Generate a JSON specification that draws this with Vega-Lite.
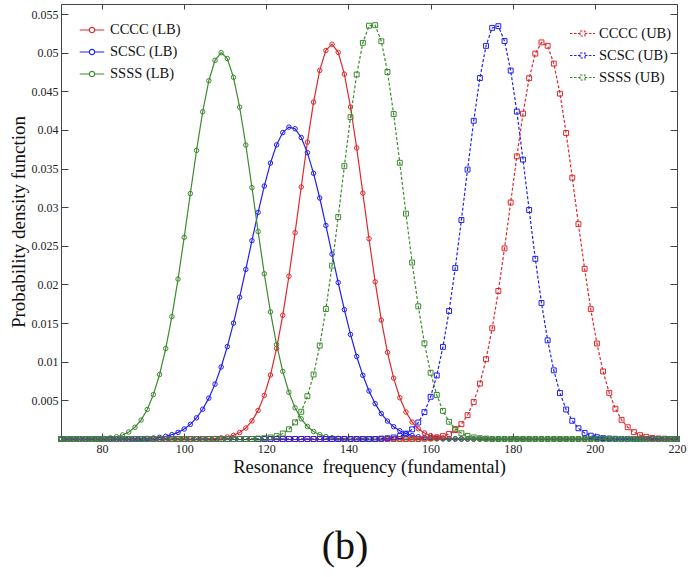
{
  "$schema": "https://vega.github.io/schema/vega-lite/v6.json",
  "width": 616,
  "height": 435,
  "autosize": "none",
  "padding": {"left": 61, "top": 4, "right": 19, "bottom": 138},
  "background": "white",
  "config": {
    "font": "Liberation Serif",
    "view": {"stroke": "#444", "strokeWidth": 1},
    "axis": {"domainColor": "#444", "tickColor": "#444", "labelColor": "#222", "titleColor": "#111", "labelFont": "Liberation Serif", "titleFont": "Liberation Serif", "grid": false, "labelFontSize": 12, "titleFontWeight": "normal", "labelFlush": false}
  },
  "title": {"text": "(b)", "orient": "bottom", "fontSize": 40, "fontWeight": "normal", "font": "Liberation Serif", "color": "#111", "offset": 51, "dx": -24},
  "data": {"values": [
    {"x":70,"CCCC (LB)":0,"SCSC (LB)":0,"SSSS (LB)":0,"CCCC (UB)":0,"SCSC (UB)":0,"SSSS (UB)":0},
    {"x":71.5,"CCCC (LB)":0,"SCSC (LB)":0,"SSSS (LB)":0,"CCCC (UB)":0,"SCSC (UB)":0,"SSSS (UB)":0},
    {"x":73,"CCCC (LB)":0,"SCSC (LB)":0,"SSSS (LB)":0,"CCCC (UB)":0,"SCSC (UB)":0,"SSSS (UB)":0},
    {"x":74.5,"CCCC (LB)":0,"SCSC (LB)":0,"SSSS (LB)":0,"CCCC (UB)":0,"SCSC (UB)":0,"SSSS (UB)":0},
    {"x":76,"CCCC (LB)":0,"SCSC (LB)":0,"SSSS (LB)":0,"CCCC (UB)":0,"SCSC (UB)":0,"SSSS (UB)":0},
    {"x":77.5,"CCCC (LB)":0,"SCSC (LB)":0,"SSSS (LB)":0,"CCCC (UB)":0,"SCSC (UB)":0,"SSSS (UB)":0},
    {"x":79,"CCCC (LB)":0,"SCSC (LB)":0,"SSSS (LB)":0.00004,"CCCC (UB)":0,"SCSC (UB)":0,"SSSS (UB)":0},
    {"x":80.5,"CCCC (LB)":0,"SCSC (LB)":0,"SSSS (LB)":0.00008,"CCCC (UB)":0,"SCSC (UB)":0,"SSSS (UB)":0},
    {"x":82,"CCCC (LB)":0,"SCSC (LB)":0,"SSSS (LB)":0.00016,"CCCC (UB)":0,"SCSC (UB)":0,"SSSS (UB)":0},
    {"x":83.5,"CCCC (LB)":0,"SCSC (LB)":0,"SSSS (LB)":0.00029,"CCCC (UB)":0,"SCSC (UB)":0,"SSSS (UB)":0},
    {"x":85,"CCCC (LB)":0,"SCSC (LB)":0,"SSSS (LB)":0.00052,"CCCC (UB)":0,"SCSC (UB)":0,"SSSS (UB)":0},
    {"x":86.5,"CCCC (LB)":0,"SCSC (LB)":0,"SSSS (LB)":0.00091,"CCCC (UB)":0,"SCSC (UB)":0,"SSSS (UB)":0},
    {"x":88,"CCCC (LB)":0,"SCSC (LB)":0.00003,"SSSS (LB)":0.00152,"CCCC (UB)":0,"SCSC (UB)":0,"SSSS (UB)":0},
    {"x":89.5,"CCCC (LB)":0,"SCSC (LB)":0.00004,"SSSS (LB)":0.00245,"CCCC (UB)":0,"SCSC (UB)":0,"SSSS (UB)":0},
    {"x":91,"CCCC (LB)":0,"SCSC (LB)":0.00008,"SSSS (LB)":0.00382,"CCCC (UB)":0,"SCSC (UB)":0,"SSSS (UB)":0},
    {"x":92.5,"CCCC (LB)":0,"SCSC (LB)":0.00013,"SSSS (LB)":0.00575,"CCCC (UB)":0,"SCSC (UB)":0,"SSSS (UB)":0},
    {"x":94,"CCCC (LB)":0,"SCSC (LB)":0.00022,"SSSS (LB)":0.00835,"CCCC (UB)":0,"SCSC (UB)":0,"SSSS (UB)":0},
    {"x":95.5,"CCCC (LB)":0,"SCSC (LB)":0.00035,"SSSS (LB)":0.01171,"CCCC (UB)":0,"SCSC (UB)":0,"SSSS (UB)":0},
    {"x":97,"CCCC (LB)":0,"SCSC (LB)":0.00056,"SSSS (LB)":0.01585,"CCCC (UB)":0,"SCSC (UB)":0,"SSSS (UB)":0},
    {"x":98.5,"CCCC (LB)":0,"SCSC (LB)":0.00086,"SSSS (LB)":0.0207,"CCCC (UB)":0,"SCSC (UB)":0,"SSSS (UB)":0},
    {"x":100,"CCCC (LB)":0,"SCSC (LB)":0.00129,"SSSS (LB)":0.0261,"CCCC (UB)":0,"SCSC (UB)":0,"SSSS (UB)":0},
    {"x":101.5,"CCCC (LB)":0,"SCSC (LB)":0.0019,"SSSS (LB)":0.03177,"CCCC (UB)":0,"SCSC (UB)":0,"SSSS (UB)":0},
    {"x":103,"CCCC (LB)":0,"SCSC (LB)":0.00274,"SSSS (LB)":0.03734,"CCCC (UB)":0,"SCSC (UB)":0,"SSSS (UB)":0},
    {"x":104.5,"CCCC (LB)":0,"SCSC (LB)":0.00385,"SSSS (LB)":0.04235,"CCCC (UB)":0,"SCSC (UB)":0,"SSSS (UB)":0},
    {"x":106,"CCCC (LB)":0.00003,"SCSC (LB)":0.00529,"SSSS (LB)":0.04637,"CCCC (UB)":0,"SCSC (UB)":0,"SSSS (UB)":0},
    {"x":107.5,"CCCC (LB)":0.00007,"SCSC (LB)":0.0071,"SSSS (LB)":0.04901,"CCCC (UB)":0,"SCSC (UB)":0,"SSSS (UB)":0},
    {"x":109,"CCCC (LB)":0.00014,"SCSC (LB)":0.00932,"SSSS (LB)":0.05,"CCCC (UB)":0,"SCSC (UB)":0,"SSSS (UB)":0},
    {"x":110.5,"CCCC (LB)":0.00026,"SCSC (LB)":0.01196,"SSSS (LB)":0.04924,"CCCC (UB)":0,"SCSC (UB)":0,"SSSS (UB)":0},
    {"x":112,"CCCC (LB)":0.00047,"SCSC (LB)":0.01499,"SSSS (LB)":0.04681,"CCCC (UB)":0,"SCSC (UB)":0,"SSSS (UB)":0},
    {"x":113.5,"CCCC (LB)":0.00084,"SCSC (LB)":0.01835,"SSSS (LB)":0.04295,"CCCC (UB)":0,"SCSC (UB)":0,"SSSS (UB)":0},
    {"x":115,"CCCC (LB)":0.00142,"SCSC (LB)":0.02195,"SSSS (LB)":0.03805,"CCCC (UB)":0,"SCSC (UB)":0,"SSSS (UB)":0},
    {"x":116.5,"CCCC (LB)":0.00234,"SCSC (LB)":0.02567,"SSSS (LB)":0.03254,"CCCC (UB)":0,"SCSC (UB)":0,"SSSS (UB)":0},
    {"x":118,"CCCC (LB)":0.0037,"SCSC (LB)":0.02933,"SSSS (LB)":0.02685,"CCCC (UB)":0,"SCSC (UB)":0,"SSSS (UB)":0.00005},
    {"x":119.5,"CCCC (LB)":0.00564,"SCSC (LB)":0.03274,"SSSS (LB)":0.02139,"CCCC (UB)":0,"SCSC (UB)":0,"SSSS (UB)":0.0001},
    {"x":121,"CCCC (LB)":0.00828,"SCSC (LB)":0.03571,"SSSS (LB)":0.01645,"CCCC (UB)":0,"SCSC (UB)":0,"SSSS (UB)":0.0002},
    {"x":122.5,"CCCC (LB)":0.01173,"SCSC (LB)":0.03807,"SSSS (LB)":0.01221,"CCCC (UB)":0,"SCSC (UB)":0,"SSSS (UB)":0.00038},
    {"x":124,"CCCC (LB)":0.01601,"SCSC (LB)":0.03966,"SSSS (LB)":0.00875,"CCCC (UB)":0,"SCSC (UB)":0,"SSSS (UB)":0.00071},
    {"x":125.5,"CCCC (LB)":0.02106,"SCSC (LB)":0.04037,"SSSS (LB)":0.00605,"CCCC (UB)":0,"SCSC (UB)":0,"SSSS (UB)":0.00126},
    {"x":127,"CCCC (LB)":0.0267,"SCSC (LB)":0.04015,"SSSS (LB)":0.00404,"CCCC (UB)":0,"SCSC (UB)":0,"SSSS (UB)":0.00215},
    {"x":128.5,"CCCC (LB)":0.03262,"SCSC (LB)":0.03902,"SSSS (LB)":0.00261,"CCCC (UB)":0,"SCSC (UB)":0,"SSSS (UB)":0.00352},
    {"x":130,"CCCC (LB)":0.03842,"SCSC (LB)":0.03706,"SSSS (LB)":0.00162,"CCCC (UB)":0,"SCSC (UB)":0,"SSSS (UB)":0.00554},
    {"x":131.5,"CCCC (LB)":0.0436,"SCSC (LB)":0.03439,"SSSS (LB)":0.00097,"CCCC (UB)":0,"SCSC (UB)":0,"SSSS (UB)":0.00835},
    {"x":133,"CCCC (LB)":0.0477,"SCSC (LB)":0.03119,"SSSS (LB)":0.00056,"CCCC (UB)":0,"SCSC (UB)":0,"SSSS (UB)":0.0121},
    {"x":134.5,"CCCC (LB)":0.05029,"SCSC (LB)":0.02764,"SSSS (LB)":0.00032,"CCCC (UB)":0,"SCSC (UB)":0,"SSSS (UB)":0.01682},
    {"x":136,"CCCC (LB)":0.0511,"SCSC (LB)":0.02393,"SSSS (LB)":0.00017,"CCCC (UB)":0,"SCSC (UB)":0,"SSSS (UB)":0.02244},
    {"x":137.5,"CCCC (LB)":0.05004,"SCSC (LB)":0.02025,"SSSS (LB)":0.00009,"CCCC (UB)":0,"SCSC (UB)":0,"SSSS (UB)":0.02873},
    {"x":139,"CCCC (LB)":0.04723,"SCSC (LB)":0.01674,"SSSS (LB)":0.00005,"CCCC (UB)":0,"SCSC (UB)":0,"SSSS (UB)":0.03531},
    {"x":140.5,"CCCC (LB)":0.04297,"SCSC (LB)":0.01353,"SSSS (LB)":0,"CCCC (UB)":0,"SCSC (UB)":0,"SSSS (UB)":0.04166},
    {"x":142,"CCCC (LB)":0.03767,"SCSC (LB)":0.01068,"SSSS (LB)":0,"CCCC (UB)":0,"SCSC (UB)":0,"SSSS (UB)":0.04717},
    {"x":143.5,"CCCC (LB)":0.03183,"SCSC (LB)":0.00824,"SSSS (LB)":0,"CCCC (UB)":0,"SCSC (UB)":0,"SSSS (UB)":0.05127},
    {"x":145,"CCCC (LB)":0.02592,"SCSC (LB)":0.00621,"SSSS (LB)":0,"CCCC (UB)":0,"SCSC (UB)":0,"SSSS (UB)":0.05349},
    {"x":146.5,"CCCC (LB)":0.02034,"SCSC (LB)":0.00457,"SSSS (LB)":0,"CCCC (UB)":0,"SCSC (UB)":0,"SSSS (UB)":0.05356},
    {"x":148,"CCCC (LB)":0.01539,"SCSC (LB)":0.00329,"SSSS (LB)":0,"CCCC (UB)":0,"SCSC (UB)":0.00005,"SSSS (UB)":0.05148},
    {"x":149.5,"CCCC (LB)":0.01122,"SCSC (LB)":0.00232,"SSSS (LB)":0,"CCCC (UB)":0,"SCSC (UB)":0.0001,"SSSS (UB)":0.0475},
    {"x":151,"CCCC (LB)":0.00788,"SCSC (LB)":0.00159,"SSSS (LB)":0,"CCCC (UB)":0,"SCSC (UB)":0.0002,"SSSS (UB)":0.04206},
    {"x":152.5,"CCCC (LB)":0.00534,"SCSC (LB)":0.00107,"SSSS (LB)":0,"CCCC (UB)":0,"SCSC (UB)":0.00038,"SSSS (UB)":0.03575},
    {"x":154,"CCCC (LB)":0.00349,"SCSC (LB)":0.0007,"SSSS (LB)":0,"CCCC (UB)":0,"SCSC (UB)":0.0007,"SSSS (UB)":0.02917},
    {"x":155.5,"CCCC (LB)":0.00219,"SCSC (LB)":0.00045,"SSSS (LB)":0,"CCCC (UB)":0,"SCSC (UB)":0.00125,"SSSS (UB)":0.02284},
    {"x":157,"CCCC (LB)":0.00133,"SCSC (LB)":0.00028,"SSSS (LB)":0,"CCCC (UB)":0,"SCSC (UB)":0.00213,"SSSS (UB)":0.01717},
    {"x":158.5,"CCCC (LB)":0.00078,"SCSC (LB)":0.00017,"SSSS (LB)":0,"CCCC (UB)":0.00005,"SCSC (UB)":0.00348,"SSSS (UB)":0.01238},
    {"x":160,"CCCC (LB)":0.00044,"SCSC (LB)":0.0001,"SSSS (LB)":0,"CCCC (UB)":0.0001,"SCSC (UB)":0.00546,"SSSS (UB)":0.00857},
    {"x":161.5,"CCCC (LB)":0.00024,"SCSC (LB)":0.00006,"SSSS (LB)":0,"CCCC (UB)":0.0002,"SCSC (UB)":0.00823,"SSSS (UB)":0.0057},
    {"x":163,"CCCC (LB)":0.00012,"SCSC (LB)":0.00003,"SSSS (LB)":0,"CCCC (UB)":0.00037,"SCSC (UB)":0.01192,"SSSS (UB)":0.00364},
    {"x":164.5,"CCCC (LB)":0.00006,"SCSC (LB)":0,"SSSS (LB)":0,"CCCC (UB)":0.00066,"SCSC (UB)":0.01657,"SSSS (UB)":0.00223},
    {"x":166,"CCCC (LB)":0.00003,"SCSC (LB)":0,"SSSS (LB)":0,"CCCC (UB)":0.00115,"SCSC (UB)":0.02212,"SSSS (UB)":0.00131},
    {"x":167.5,"CCCC (LB)":0,"SCSC (LB)":0,"SSSS (LB)":0,"CCCC (UB)":0.00192,"SCSC (UB)":0.02834,"SSSS (UB)":0.00074},
    {"x":169,"CCCC (LB)":0,"SCSC (LB)":0,"SSSS (LB)":0,"CCCC (UB)":0.00309,"SCSC (UB)":0.03487,"SSSS (UB)":0.0004},
    {"x":170.5,"CCCC (LB)":0,"SCSC (LB)":0,"SSSS (LB)":0,"CCCC (UB)":0.0048,"SCSC (UB)":0.04119,"SSSS (UB)":0.00021},
    {"x":172,"CCCC (LB)":0,"SCSC (LB)":0,"SSSS (LB)":0,"CCCC (UB)":0.00717,"SCSC (UB)":0.04672,"SSSS (UB)":0.0001},
    {"x":173.5,"CCCC (LB)":0,"SCSC (LB)":0,"SSSS (LB)":0,"CCCC (UB)":0.01033,"SCSC (UB)":0.05088,"SSSS (UB)":0.00005},
    {"x":175,"CCCC (LB)":0,"SCSC (LB)":0,"SSSS (LB)":0,"CCCC (UB)":0.01433,"SCSC (UB)":0.05321,"SSSS (UB)":0},
    {"x":176.5,"CCCC (LB)":0,"SCSC (LB)":0,"SSSS (LB)":0,"CCCC (UB)":0.01916,"SCSC (UB)":0.05343,"SSSS (UB)":0},
    {"x":178,"CCCC (LB)":0,"SCSC (LB)":0,"SSSS (LB)":0,"CCCC (UB)":0.02467,"SCSC (UB)":0.05151,"SSSS (UB)":0},
    {"x":179.5,"CCCC (LB)":0,"SCSC (LB)":0,"SSSS (LB)":0,"CCCC (UB)":0.03061,"SCSC (UB)":0.04768,"SSSS (UB)":0},
    {"x":181,"CCCC (LB)":0,"SCSC (LB)":0,"SSSS (LB)":0,"CCCC (UB)":0.03658,"SCSC (UB)":0.04238,"SSSS (UB)":0},
    {"x":182.5,"CCCC (LB)":0,"SCSC (LB)":0,"SSSS (LB)":0,"CCCC (UB)":0.04211,"SCSC (UB)":0.03616,"SSSS (UB)":0},
    {"x":184,"CCCC (LB)":0,"SCSC (LB)":0,"SSSS (LB)":0,"CCCC (UB)":0.0467,"SCSC (UB)":0.02964,"SSSS (UB)":0},
    {"x":185.5,"CCCC (LB)":0,"SCSC (LB)":0,"SSSS (LB)":0,"CCCC (UB)":0.04988,"SCSC (UB)":0.02332,"SSSS (UB)":0},
    {"x":187,"CCCC (LB)":0,"SCSC (LB)":0,"SSSS (LB)":0,"CCCC (UB)":0.05133,"SCSC (UB)":0.01761,"SSSS (UB)":0},
    {"x":188.5,"CCCC (LB)":0,"SCSC (LB)":0,"SSSS (LB)":0,"CCCC (UB)":0.05089,"SCSC (UB)":0.01277,"SSSS (UB)":0},
    {"x":190,"CCCC (LB)":0,"SCSC (LB)":0,"SSSS (LB)":0,"CCCC (UB)":0.04859,"SCSC (UB)":0.00889,"SSSS (UB)":0},
    {"x":191.5,"CCCC (LB)":0,"SCSC (LB)":0,"SSSS (LB)":0,"CCCC (UB)":0.0447,"SCSC (UB)":0.00595,"SSSS (UB)":0},
    {"x":193,"CCCC (LB)":0,"SCSC (LB)":0,"SSSS (LB)":0,"CCCC (UB)":0.03961,"SCSC (UB)":0.00382,"SSSS (UB)":0},
    {"x":194.5,"CCCC (LB)":0,"SCSC (LB)":0,"SSSS (LB)":0,"CCCC (UB)":0.03382,"SCSC (UB)":0.00236,"SSSS (UB)":0},
    {"x":196,"CCCC (LB)":0,"SCSC (LB)":0,"SSSS (LB)":0,"CCCC (UB)":0.02781,"SCSC (UB)":0.00139,"SSSS (UB)":0},
    {"x":197.5,"CCCC (LB)":0,"SCSC (LB)":0,"SSSS (LB)":0,"CCCC (UB)":0.02203,"SCSC (UB)":0.00079,"SSSS (UB)":0},
    {"x":199,"CCCC (LB)":0,"SCSC (LB)":0,"SSSS (LB)":0,"CCCC (UB)":0.01681,"SCSC (UB)":0.00043,"SSSS (UB)":0},
    {"x":200.5,"CCCC (LB)":0,"SCSC (LB)":0,"SSSS (LB)":0,"CCCC (UB)":0.01236,"SCSC (UB)":0.00023,"SSSS (UB)":0},
    {"x":202,"CCCC (LB)":0,"SCSC (LB)":0,"SSSS (LB)":0,"CCCC (UB)":0.00875,"SCSC (UB)":0.00011,"SSSS (UB)":0},
    {"x":203.5,"CCCC (LB)":0,"SCSC (LB)":0,"SSSS (LB)":0,"CCCC (UB)":0.00597,"SCSC (UB)":0.00006,"SSSS (UB)":0},
    {"x":205,"CCCC (LB)":0,"SCSC (LB)":0,"SSSS (LB)":0,"CCCC (UB)":0.00392,"SCSC (UB)":0.00003,"SSSS (UB)":0},
    {"x":206.5,"CCCC (LB)":0,"SCSC (LB)":0,"SSSS (LB)":0,"CCCC (UB)":0.00248,"SCSC (UB)":0,"SSSS (UB)":0},
    {"x":208,"CCCC (LB)":0,"SCSC (LB)":0,"SSSS (LB)":0,"CCCC (UB)":0.00152,"SCSC (UB)":0,"SSSS (UB)":0},
    {"x":209.5,"CCCC (LB)":0,"SCSC (LB)":0,"SSSS (LB)":0,"CCCC (UB)":0.00089,"SCSC (UB)":0,"SSSS (UB)":0},
    {"x":211,"CCCC (LB)":0,"SCSC (LB)":0,"SSSS (LB)":0,"CCCC (UB)":0.0005,"SCSC (UB)":0,"SSSS (UB)":0},
    {"x":212.5,"CCCC (LB)":0,"SCSC (LB)":0,"SSSS (LB)":0,"CCCC (UB)":0.00028,"SCSC (UB)":0,"SSSS (UB)":0},
    {"x":214,"CCCC (LB)":0,"SCSC (LB)":0,"SSSS (LB)":0,"CCCC (UB)":0.00014,"SCSC (UB)":0,"SSSS (UB)":0},
    {"x":215.5,"CCCC (LB)":0,"SCSC (LB)":0,"SSSS (LB)":0,"CCCC (UB)":0.00007,"SCSC (UB)":0,"SSSS (UB)":0},
    {"x":217,"CCCC (LB)":0,"SCSC (LB)":0,"SSSS (LB)":0,"CCCC (UB)":0.00004,"SCSC (UB)":0,"SSSS (UB)":0},
    {"x":218.5,"CCCC (LB)":0,"SCSC (LB)":0,"SSSS (LB)":0,"CCCC (UB)":0,"SCSC (UB)":0,"SSSS (UB)":0},
    {"x":220,"CCCC (LB)":0,"SCSC (LB)":0,"SSSS (LB)":0,"CCCC (UB)":0,"SCSC (UB)":0,"SSSS (UB)":0}
  ]},
  "layer": [
    {
      "transform": [{"fold": ["CCCC (LB)", "SCSC (LB)", "SSSS (LB)"], "as": ["series", "y"]}],
      "encoding": {
        "x": {"field": "x", "type": "quantitative", "scale": {"domain": [70, 220], "nice": false, "zero": false},
              "axis": {"orient": "bottom", "values": [80, 100, 120, 140, 160, 180, 200, 220], "tickSize": -6, "labelPadding": 10, "title": "Resonance\u00a0 frequency (fundamental)", "titleFontSize": 18.5, "titlePadding": 3}},
        "y": {"field": "y", "type": "quantitative", "scale": {"domain": [0, 0.0563], "nice": false},
              "axis": {"orient": "left", "values": [0.005, 0.01, 0.015, 0.02, 0.025, 0.03, 0.035, 0.04, 0.045, 0.05, 0.055], "format": ".3~f", "tickSize": -7, "labelPadding": 10, "title": "Probability density function", "titleFontSize": 19, "titlePadding": 3}},
        "color": {"field": "series", "type": "nominal",
                  "scale": {"domain": ["CCCC (LB)", "SCSC (LB)", "SSSS (LB)"], "range": ["#e0282c", "#2020f0", "#3d8b2f"]},
                  "legend": {"orient": "none", "legendX": 18, "legendY": 13, "title": null, "padding": 0,
                             "symbolType": "M-1,0L-0.22,0M0.22,0L1,0M-0.22,0A0.22,0.22,0,1,1,0.22,0A0.22,0.22,0,1,1,-0.22,0",
                             "symbolSize": 600, "symbolStrokeWidth": 1.2, "symbolFillColor": "transparent",
                             "labelFont": "Liberation Serif", "labelFontSize": 14.5, "labelColor": "#111", "labelOffset": 5, "rowPadding": 2}}
      },
      "layer": [
        {"mark": {"type": "line", "strokeWidth": 1.2}},
        {"mark": {"type": "point", "shape": "circle", "filled": false, "size": 20, "strokeWidth": 1, "opacity": 1}}
      ]
    },
    {
      "transform": [{"fold": ["CCCC (UB)", "SCSC (UB)", "SSSS (UB)"], "as": ["series", "y"]}],
      "encoding": {
        "x": {"field": "x", "type": "quantitative", "scale": {"domain": [70, 220], "nice": false, "zero": false},
              "axis": {"orient": "top", "values": [80, 100, 120, 140, 160, 180, 200, 220], "tickSize": -5, "labels": false, "domain": false, "title": null}},
        "y": {"field": "y", "type": "quantitative", "scale": {"domain": [0, 0.0563], "nice": false},
              "axis": {"orient": "right", "values": [0.005, 0.01, 0.015, 0.02, 0.025, 0.03, 0.035, 0.04, 0.045, 0.05, 0.055], "tickSize": -7, "labels": false, "domain": false, "title": null}},
        "color": {"field": "series", "type": "nominal",
                  "scale": {"domain": ["CCCC (UB)", "SCSC (UB)", "SSSS (UB)"], "range": ["#e0282c", "#2020f0", "#3d8b2f"]},
                  "legend": {"orient": "none", "legendX": 508, "legendY": 16, "title": null, "padding": 0,
                             "symbolType": "M-1,0L-0.2,0M0.2,0L1,0M-0.2,-0.2L0.2,-0.2L0.2,0.2L-0.2,0.2Z",
                             "symbolSize": 625, "symbolStrokeWidth": 1.2, "symbolFillColor": "transparent", "symbolDash": [2.5, 1.5],
                             "labelFont": "Liberation Serif", "labelFontSize": 14.5, "labelColor": "#111", "labelOffset": 3, "rowPadding": 2}}
      },
      "layer": [
        {"mark": {"type": "line", "strokeWidth": 1.2, "strokeDash": [3, 2]}},
        {"mark": {"type": "point", "shape": "square", "filled": false, "size": 24, "strokeWidth": 1, "opacity": 1}}
      ]
    }
  ],
  "resolve": {"scale": {"color": "independent"}, "axis": {"x": "independent", "y": "independent"}}
}
